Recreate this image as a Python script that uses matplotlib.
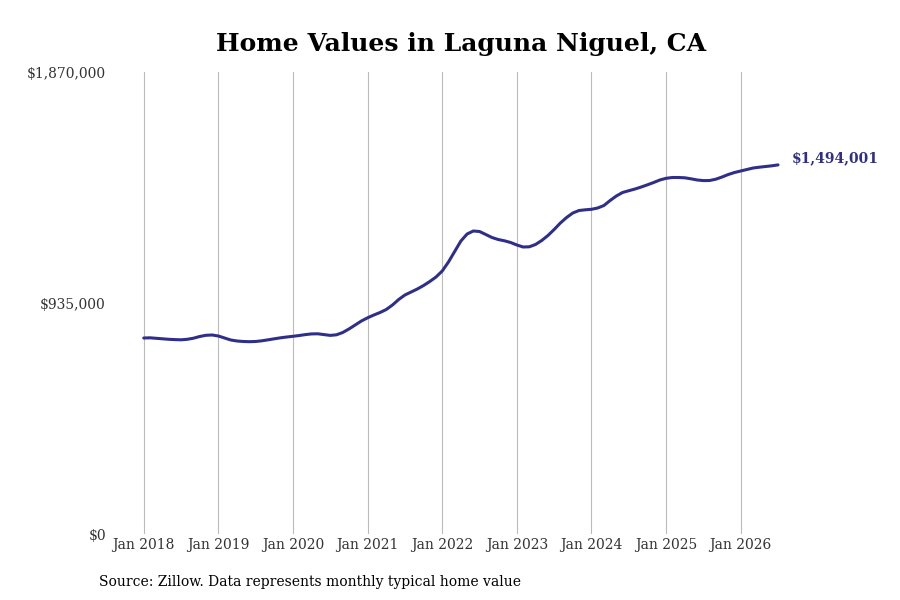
import matplotlib
matplotlib.use("Agg")
import matplotlib.pyplot as plt
import matplotlib.transforms as mtransforms

# monthly typical home value, Jan 2018 .. Jul 2026
values = [
    793300, 794100, 792100, 790100, 788100, 786900, 786000, 788100, 792500, 799400, 804300, 805500,
    801400, 793300, 785200, 781200, 779200, 778400, 779200, 782000, 786000, 790100, 794100, 797400,
    800200, 803400, 807100, 809900, 810300, 807100, 803900, 806300, 815600, 829800, 846000, 862100,
    875100, 886400, 896500, 908700, 926900, 949200, 967400, 979500, 991700, 1005800, 1022000, 1040200,
    1064500, 1100900, 1143400, 1185900, 1214300, 1226400, 1224400, 1212300, 1200100, 1192000, 1186800, 1179900,
    1169800, 1161700, 1162500, 1171800, 1188000, 1208200, 1232500, 1258800, 1281100, 1299300, 1309400, 1312200,
    1314300, 1319500, 1329600, 1349900, 1368100, 1382300, 1389500, 1396400, 1404500, 1413400, 1422700, 1432900,
    1439700, 1443000, 1443000, 1441800, 1437700, 1432900, 1430400, 1430800, 1436100, 1445000, 1455100, 1463200,
    1469300, 1475400, 1481400, 1484700, 1487500, 1490300, 1494001,
]
years = [2018, 2019, 2020, 2021, 2022, 2023, 2024, 2025, 2026]
y_ticks = [0, 935000, 1870000]
y_labels = ["$0", "$935,000", "$1,870,000"]

plt.rcParams['font.family'] = 'DejaVu Serif'
line_color = "#2f2f8a"

fig = plt.figure(figsize=(9, 6), dpi=100)
ax = fig.add_axes([0.13, 0.11, 0.74, 0.77])

months = list(range(len(values)))
ax.plot(months, values, color=line_color, linewidth=2.2, solid_capstyle="round")

ax.set_xlim(-4.3, 102.8)
ax.set_ylim(0, 1870000)
ax.set_xticks([(y - 2018) * 12 for y in years])
ax.set_xticklabels(["Jan %d" % y for y in years], fontsize=10, color="#333333")
ax.set_yticks(y_ticks)
ax.set_yticklabels(y_labels, fontsize=10, color="#333333")
ax.tick_params(length=0, pad=3)
ax.tick_params(axis="y", pad=8)
shift = mtransforms.ScaledTranslation(0, -2 / 100, fig.dpi_scale_trans)
for lab in ax.get_yticklabels():
    lab.set_verticalalignment("center")
    lab.set_transform(lab.get_transform() + shift)
ax.grid(axis="x", color="#bbbbbb", linewidth=0.8)
for s in ax.spines.values():
    s.set_visible(False)

ax.annotate("$1,494,001", xy=(months[-1], values[-1]), xytext=(10, 5),
            textcoords="offset points", fontsize=10, fontweight="bold",
            color=line_color, va="center", annotation_clip=False)

fig.text(0.512, 0.927, "Home Values in Laguna Niguel, CA", ha="center", va="center",
         fontsize=18, fontweight="bold")
fig.text(0.11, 0.03, "Source: Zillow. Data represents monthly typical home value",
         fontsize=10, va="center")

fig.savefig("out.png", dpi=100)
